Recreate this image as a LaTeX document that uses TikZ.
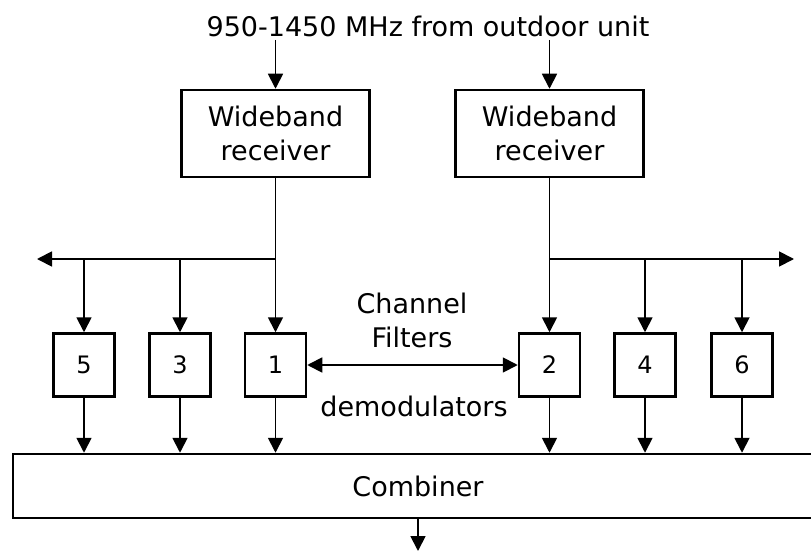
\documentclass[tikz,border=0pt]{standalone}
\usepackage{fontspec}
\setmainfont{DejaVu Sans}
\usetikzlibrary{positioning, arrows.meta}

\begin{document}
\begin{tikzpicture}[x=1pt, y=-1pt,
    every node/.style={align=center, font=\fontsize{27}{34}\selectfont},
    rxbox/.style={draw, line width=2.5pt, minimum width=188pt, minimum height=87pt},
    chbox/.style={draw, line width=2.5pt, minimum width=61pt, minimum height=63pt, font=\fontsize{24}{28}\selectfont},
    sig/.style={line width=1.8pt, -{Triangle[length=15pt, width=15pt]}},
    dsig/.style={line width=1.8pt, {Triangle[length=15pt, width=15pt]}-{Triangle[length=15pt, width=15pt]}}]
  \useasboundingbox (0,0) rectangle (811,551);
  \node (title) at (428,26) {950-1450 MHz from outdoor unit};
  \node[rxbox] (rx1) at (275.5,133.5) {Wideband\\receiver};
  \node[rxbox] (rx2) at (549.5,133.5) {Wideband\\receiver};
  \node[chbox] (ch5) at (84,365) {5};
  \node[chbox] (ch3) at (180,365) {3};
  \node[chbox] (ch1) at (275.5,365) {1};
  \node[chbox] (ch2) at (549.5,365) {2};
  \node[chbox] (ch4) at (645,365) {4};
  \node[chbox] (ch6) at (742,365) {6};
  \node (chlbl) at (412,320) {Channel\\Filters};
  \node (demod) at (414,406) {demodulators};
  \node[draw, line width=2.5pt, minimum width=810pt, minimum height=64pt] (comb) at (418,486) {Combiner};
  \coordinate (lend) at (37,259);
  \coordinate (rend) at (794,259);
  \coordinate (out) at (418,551);
  \draw[sig] (rx1.north |- title.south) -- (rx1.north);
  \draw[sig] (rx2.north |- title.south) -- (rx2.north);
  \draw[sig] (rx1.south) -- (ch1.north);
  \draw[sig] (rx2.south) -- (ch2.north);
  \draw[sig] (rx1.south |- lend) -- (lend);
  \draw[sig] (rx2.south |- rend) -- (rend);
  \draw[sig] (ch5.north |- lend) -- (ch5.north);
  \draw[sig] (ch3.north |- lend) -- (ch3.north);
  \draw[sig] (ch4.north |- rend) -- (ch4.north);
  \draw[sig] (ch6.north |- rend) -- (ch6.north);
  \draw[dsig] (ch1.east) -- (ch2.west);
  \foreach \ch in {ch5, ch3, ch1, ch2, ch4, ch6}
    \draw[sig] (\ch.south) -- (\ch.south |- comb.north);
  \draw[sig] (comb.south) -- (out);
\end{tikzpicture}
\end{document}
